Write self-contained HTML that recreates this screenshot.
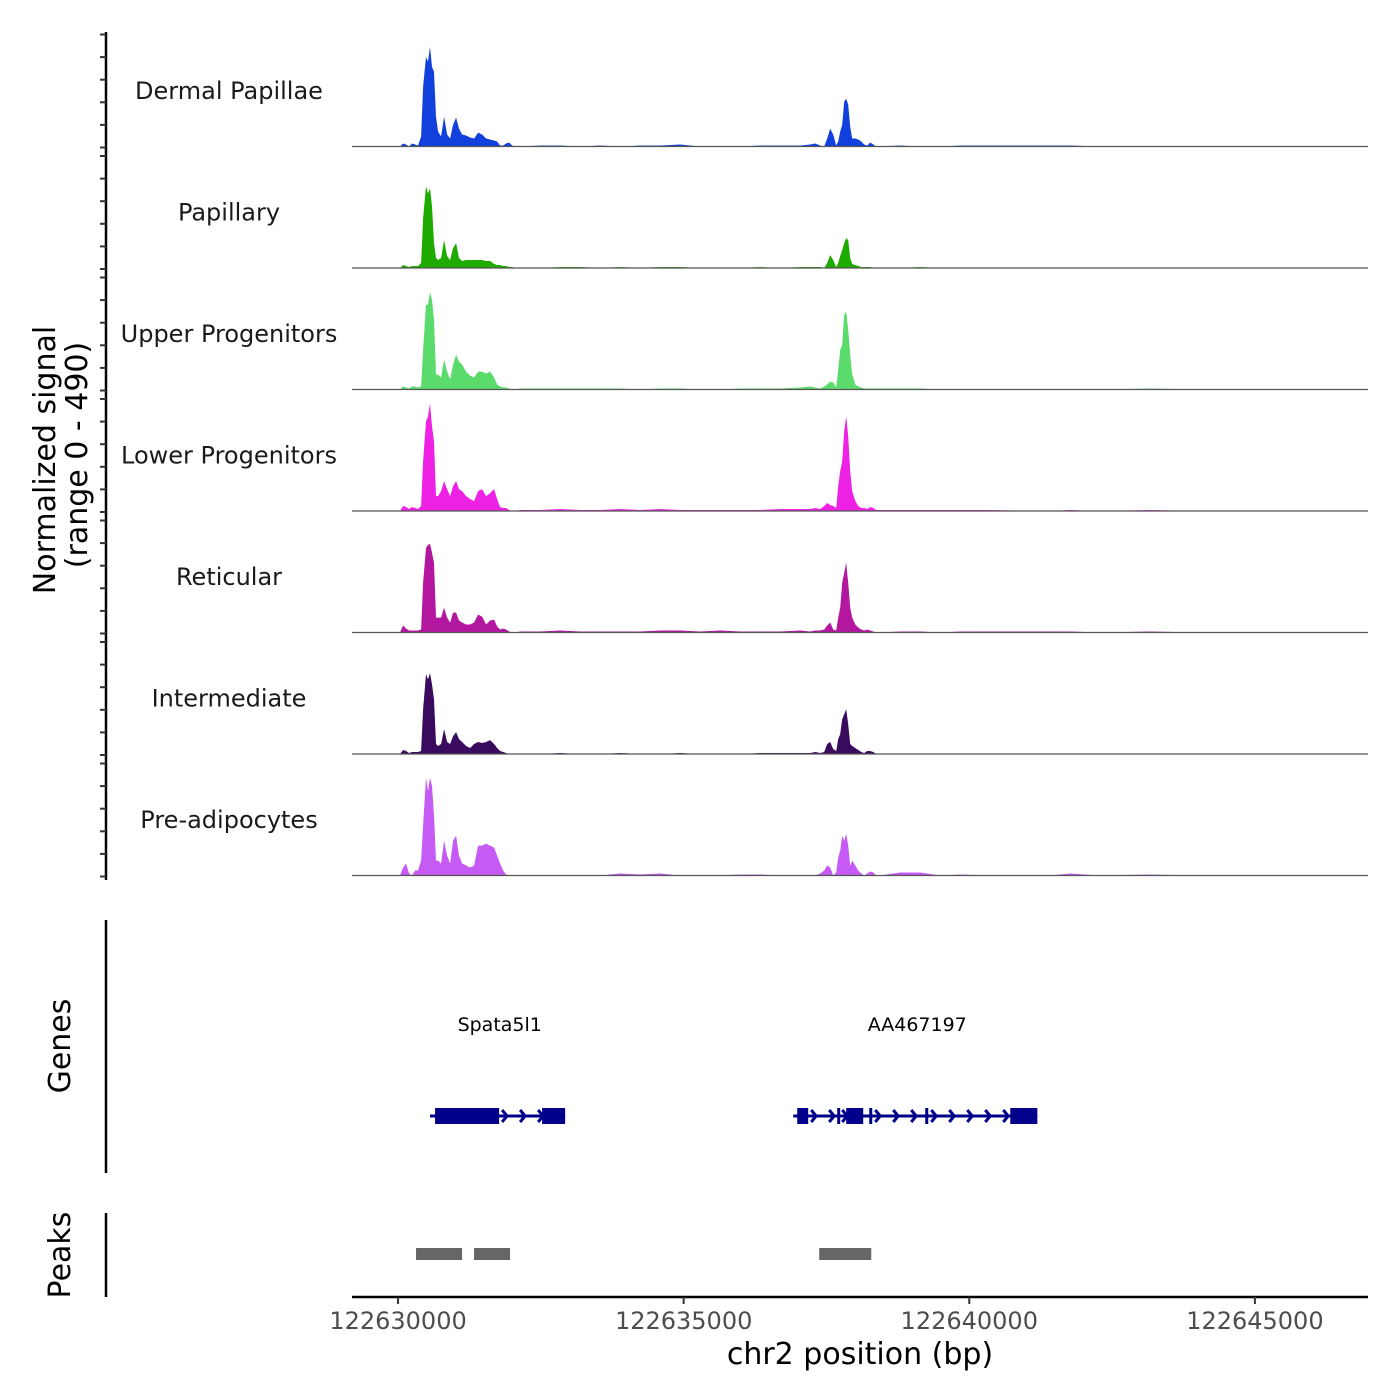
<!DOCTYPE html>
<html><head><meta charset="utf-8"><style>
body{margin:0;background:#fff}
svg{display:block;font-family:"DejaVu Sans","Liberation Sans",sans-serif}
</style></head><body>
<svg id="chart" width="1400" height="1400" viewBox="0 0 1400 1400" xmlns="http://www.w3.org/2000/svg">
<g id="tracks"></g>
<g id="yaxis"></g>
<g id="genes"></g>
<g id="peaks"></g>
<g id="xaxis"></g>
<text transform="translate(55,460) rotate(-90)" text-anchor="middle" font-size="30" fill="#000">Normalized signal</text>
<text transform="translate(87,455) rotate(-90)" text-anchor="middle" font-size="30" fill="#000">(range 0 - 490)</text>
<text transform="translate(70,1046) rotate(-90)" text-anchor="middle" font-size="30" fill="#000">Genes</text>
<text transform="translate(70,1255) rotate(-90)" text-anchor="middle" font-size="30" fill="#000">Peaks</text>
<text x="860" y="1364" text-anchor="middle" font-size="30" fill="#000">chr2 position (bp)</text>
</svg>
<script>
const positions = [122630035,122630088,122630140,122630193,122630245,122630298,122630350,122630403,122630438,122630490,122630525,122630560,122630595,122630630,122630665,122630701,122630753,122630806,122630858,122630911,122630963,122631016,122631068,122631121,122631191,122631261,122631331,122631401,122631471,122631541,122631611,122631681,122631734,122631786,122631839,122631891,122631944,122631996,122632067,
122632137,122632487,122632837,122633187,122633538,122633888,122634238,122634588,122634939,122635289,122635639,122635989,122636340,122636690,122637040,
122637215,122637302,122637390,122637460,122637513,122637566,122637618,122637671,122637706,122637741,122637776,122637811,122637846,122637881,122637916,122637951,122638004,122638056,122638109,122638161,122638214,122638266,122638319,122638371,122638441,
122638792,122639142,122639492,122639842,122640368,122641418,122641769,122642294,122643170,122644045,122644921];
const trackNames = ["Dermal Papillae","Papillary","Upper Progenitors","Lower Progenitors","Reticular","Intermediate","Pre-adipocytes"];
const trackColors = ["#1240dc","#1faa00","#5bdb6b","#ee22e4","#b4179f","#3a0a5f","#c55af5"];
const dermalPapillae = [0,3,2,0,3,2,1,10,60,90,85,100,80,75,30,15,10,30,12,8,22,29,18,12,11,9,8,14,12,8,7,6,5,1,1,3,4,1,0,
0,1,1,0,1,0,1,1,2,0,0,0,1,1,1,
2,3,1,0,8,18,12,1,5,15,22,45,48,42,20,8,8,7,5,2,1,4,2,0,0,
1,0,0,1,1,1,1,0,0,0,0];
const papillary = [0,3,2,1,2,2,2,5,50,82,75,80,62,25,10,8,10,28,12,8,20,25,10,7,8,8,8,8,8,7,7,4,3,3,2,2,1,1,0,
0,0,1,1,0,1,0,1,1,0,0,0,1,0,1,
1,1,1,0,5,13,8,1,5,12,18,25,30,28,10,4,3,2,1,1,1,1,0,0,0,
0,1,0,0,0,0,0,0,0,0,0];
const upperProgenitors = [0,3,2,1,3,3,2,3,40,85,85,98,90,70,15,15,12,30,18,10,25,35,28,25,18,14,12,18,18,16,18,12,5,3,2,2,1,0,0,
1,1,1,1,1,1,0,1,1,0,0,1,1,1,2,
3,2,1,3,5,8,7,2,20,40,45,75,78,60,35,15,5,3,2,1,1,1,1,1,1,
1,1,0,0,0,0,0,0,1,0,0];
const lowerProgenitors = [0,5,4,2,4,3,2,5,50,90,95,108,85,70,15,15,20,30,22,15,25,30,22,20,15,12,10,20,22,15,18,22,12,4,3,3,1,0,0,
1,1,2,1,1,2,1,2,1,1,1,1,1,2,2,
2,3,2,5,8,6,5,3,25,40,50,80,95,75,40,20,10,5,3,3,2,4,3,1,1,
1,1,1,1,1,0,1,0,1,0,0];
const reticular = [0,7,4,2,2,2,2,3,50,85,88,89,80,70,15,15,15,25,15,10,20,20,12,10,8,8,10,18,16,8,12,13,6,3,4,3,1,0,0,
1,1,2,1,1,1,1,2,2,1,2,1,1,1,2,
1,2,2,3,7,10,3,2,15,25,50,60,70,50,25,15,8,5,3,2,3,2,1,0,0,
1,1,0,1,1,1,1,0,1,0,0];
const intermediate = [0,4,3,1,2,2,2,3,45,80,75,81,70,55,10,8,10,25,12,10,18,22,15,12,8,6,10,12,11,12,14,10,6,3,2,1,0,0,0,
0,0,1,0,0,1,0,0,1,0,0,0,1,1,1,
1,2,1,2,10,12,5,3,15,20,35,40,45,30,10,8,6,4,2,1,3,3,2,0,0,
0,0,0,0,0,0,0,0,0,0,0];
const preAdipocytes = [0,8,12,2,0,5,5,15,50,98,85,98,90,60,15,15,12,35,20,12,35,40,20,12,10,8,10,30,30,32,30,28,20,12,5,1,0,0,0,
0,0,0,0,0,2,1,2,0,0,0,1,1,0,0,
0,0,2,5,10,8,0,3,18,25,40,35,42,30,10,15,10,5,2,0,2,4,3,0,0,
3,3,0,1,0,0,2,0,1,0,0];
const seriesValues = [dermalPapillae,papillary,upperProgenitors,lowerProgenitors,reticular,intermediate,preAdipocytes];
const xTicks = [122630000,122635000,122640000,122645000];
const xTickLabels = ["122630000","122635000","122640000","122645000"];
const geneNames = ["Spata5l1","AA467197"];
const geneStarts = [122630560,122636918];
const geneEnds = [122632925,122641191];
const geneLabelPos = [122631780,122639089];
const exonStarts = [[122630648,122632522],[122636988,122637688,122637846,122638249,122639229,122640718]];
const exonEnds = [[122631769,122632925],[122637180,122637723,122638143,122638301,122639282,122641191]];
const peakStarts = [122630315,122631331,122637373];
const peakEnds = [122631121,122631961,122638284];

const NS="http://www.w3.org/2000/svg";
function mk(parent,tag,attrs){const e=document.createElementNS(NS,tag);for(const k in attrs)e.setAttribute(k,attrs[k]);parent.appendChild(e);return e;}
const X0=352,X1=1368,D0=122629194,D1=122646980;
function xs(v){return X0+(v-D0)/(D1-D0)*(X1-X0);}
const PANEL_H=121.5, YMAX=122, BASE0=146.5;
function ys(i,v){return BASE0+i*PANEL_H - v/YMAX*PANEL_H;}

const tracks=document.getElementById('tracks');
seriesValues.forEach((vals,i)=>{
  const base=BASE0+i*PANEL_H;
  let d='M'+xs(positions[0]).toFixed(1)+','+base;
  vals.forEach((v,j)=>{d+=' L'+xs(positions[j]).toFixed(1)+','+ys(i,v).toFixed(1);});
  d+=' L'+xs(positions[positions.length-1]).toFixed(1)+','+base+' Z';
  const p=mk(tracks,'path',{d:d,fill:trackColors[i]});
  
  
  const l=mk(tracks,'line',{x1:X0,x2:X1,y1:base,y2:base,stroke:'#555',"stroke-width":1.2});
  
  
  const t=mk(tracks,'text',{x:229,y:base-PANEL_H/2+13,"text-anchor":"middle","font-size":24,fill:"#1a1a1a"});
  t.textContent=trackNames[i];
  
  
});

const ya=document.getElementById('yaxis');
mk(ya,'line',{x1:106,x2:106,y1:32,y2:880,stroke:'#000',"stroke-width":2.5});
for(let i=0;i<7;i++){const base=BASE0+i*PANEL_H+1;for(let k=0;k<6;k++){const y=base-k*22.6;
  const tk=mk(ya,'line',{x1:100,x2:106,y1:y,y2:y,stroke:'#333',"stroke-width":2});
  
  }}
mk(ya,'line',{x1:106,x2:106,y1:920,y2:1173,stroke:'#000',"stroke-width":2.5});
mk(ya,'line',{x1:106,x2:106,y1:1213,y2:1297,stroke:'#000',"stroke-width":2.5});

const gg=document.getElementById('genes');
const GY=1116, GC='#00008b';
geneNames.forEach((n,gi)=>{
  const t=mk(gg,'text',{x:xs(geneLabelPos[gi]),y:1031,"text-anchor":"middle","font-size":19,fill:"#000"});
  t.textContent=n;
  
  
  const a=xs(geneStarts[gi]),b=xs(geneEnds[gi]);
  mk(gg,'line',{x1:a,x2:b,y1:GY,y2:GY,stroke:GC,"stroke-width":3});
  const es=exonStarts[gi],ee=exonEnds[gi];
  const segs=[[a,xs(es[0])]];
  for(let k=0;k<es.length-1;k++)segs.push([xs(ee[k]),xs(es[k+1])]);
  segs.forEach(s=>{for(let x=s[0]+3;x<s[1]-4;x+=18){
    mk(gg,'path',{d:`M${x},${GY-6} L${x+5},${GY} L${x},${GY+6}`,fill:'none',stroke:GC,"stroke-width":3});}});
  es.forEach((s,k)=>{const x1=xs(s),x2=xs(ee[k]);
    const r=mk(gg,'rect',{x:x1,y:GY-8,width:Math.max(x2-x1,3),height:16,fill:GC});
    
    });
});

const pg=document.getElementById('peaks');
peakStarts.forEach((s,k)=>{
  const r=mk(pg,'rect',{x:xs(s),y:1248,width:xs(peakEnds[k])-xs(s),height:12,fill:'#666'});
  
  
});

const xa=document.getElementById('xaxis');
mk(xa,'line',{x1:X0,x2:X1,y1:1297,y2:1297,stroke:'#000',"stroke-width":2.5});
xTicks.forEach((v,k)=>{const x=xs(v);
  mk(xa,'line',{x1:x,x2:x,y1:1297,y2:1304,stroke:'#333',"stroke-width":2});
  const t=mk(xa,'text',{x:x,y:1329,"text-anchor":"middle","font-size":24,fill:"#4d4d4d"});
  t.textContent=xTickLabels[k];
  
  });
</script>
</body></html>
